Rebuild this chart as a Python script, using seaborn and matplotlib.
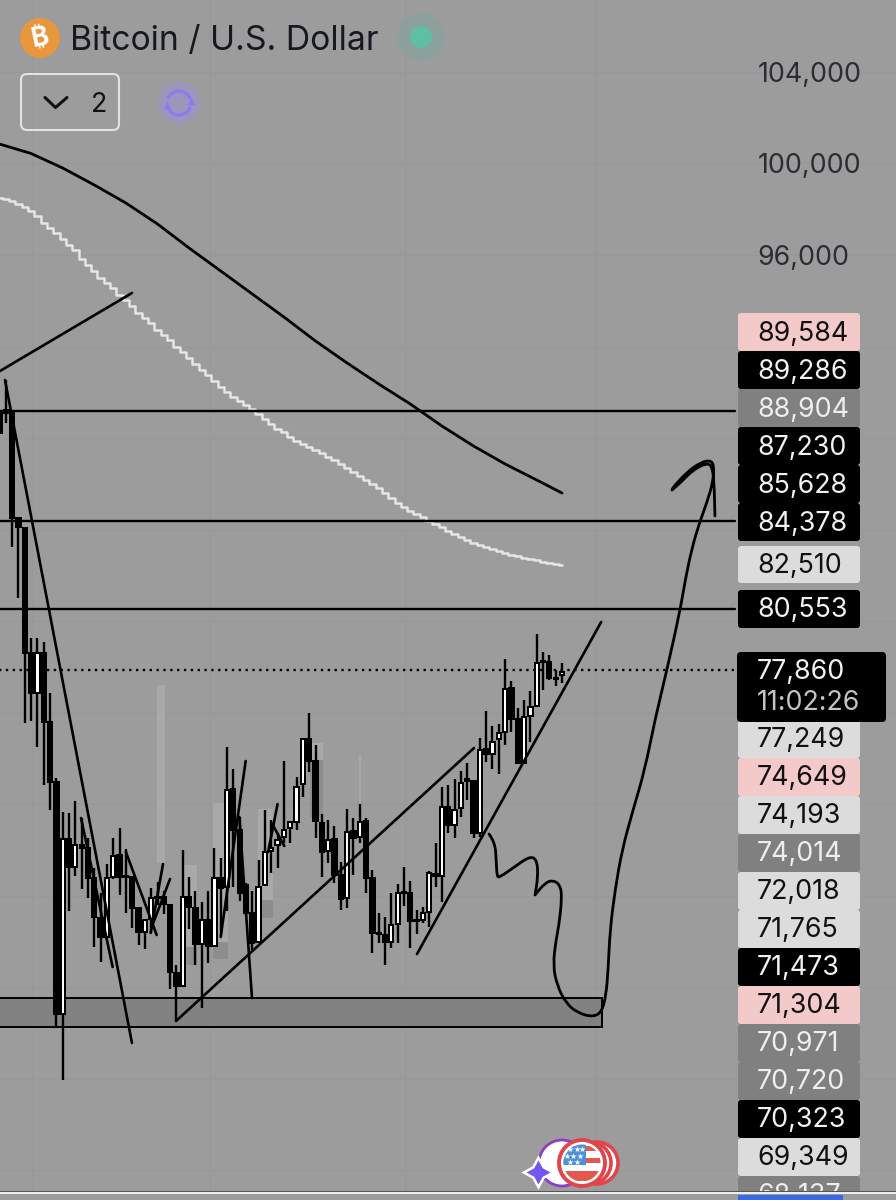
import numpy as np
import pandas as pd
import seaborn as sns
import matplotlib
matplotlib.use("Agg")
import matplotlib.pyplot as plt
from matplotlib.patches import Circle, Arc, FancyBboxPatch, PathPatch, Rectangle
from matplotlib.path import Path

# --- Candle data (one entry per candle) ---
opens = [89095, 89226, 89095, 84506, 84070, 78607, 76859, 78607, 75592, 72970,
         62831, 70479, 69255, 70217, 70085, 68774, 67026, 66196, 68818, 69780,
         68862, 68818, 67463, 66414, 66983, 67944, 67944, 67594, 64623, 64055,
         67944, 67463, 65890, 66939, 65803, 68774, 68381, 72664, 70872, 68469,
         67245, 65977, 68469, 69954, 70217, 70566, 70959, 71222, 72883, 74849,
         73887, 71178, 69954, 70479, 68906, 67900, 70828, 70566, 71265, 68774,
         66371, 66283, 65977, 66764, 68162, 68119, 66939, 66939, 67289, 68950,
         68862, 71877, 71090, 71834, 73101, 73014, 70741, 74412, 74193, 74849,
         75155, 77077, 75723, 73800, 75854, 76291, 78257, 78214, 77514, 77646]
highs = [89226, 90537, 89182, 84550, 84113, 79262, 79262, 79088, 76859, 73145,
         71659, 71615, 72139, 71396, 70522, 69212, 68119, 69386, 70522, 70959,
         70042, 68862, 67507, 66983, 68337, 68600, 68206, 67638, 64973, 69998,
         68818, 68206, 67726, 68206, 70085, 69649, 74499, 73538, 71440, 68556,
         68206, 69561, 71746, 71309, 70741, 73887, 71265, 73188, 74892, 75985,
         74587, 71571, 71309, 71047, 69474, 71790, 71396, 72008, 71396, 69124,
         67245, 67070, 68119, 68512, 69255, 68643, 67376, 67507, 69080, 70304,
         72752, 72839, 73101, 73451, 73800, 73057, 74892, 76072, 75417, 75504,
         78345, 77383, 76203, 76553, 76946, 79437, 78651, 78520, 77864, 78170]
lows = [88221, 88658, 83239, 81010, 75548, 75635, 74499, 72839, 71746, 62219,
        59947, 67332, 68862, 68294, 67900, 65759, 65104, 66152, 68731, 68032,
        67245, 66589, 65846, 65672, 66371, 67594, 67201, 63924, 62482, 64012,
        66546, 64973, 63093, 65060, 65759, 66196, 67332, 68381, 67769, 67157,
        65628, 65934, 68425, 68993, 69212, 70304, 70304, 70872, 72314, 73407,
        70522, 68818, 69430, 68556, 67376, 67463, 68906, 70304, 68119, 65497,
        65934, 64973, 65715, 65934, 67551, 65715, 66327, 66808, 66633, 68381,
        67726, 70741, 70522, 71440, 72183, 70522, 70566, 73844, 73538, 73319,
        74587, 75155, 73756, 73756, 74718, 76247, 76990, 77427, 77165, 77296]
closes = [88221, 89095, 84506, 84113, 78607, 76859, 78607, 75592, 72970, 62831,
          70479, 69255, 70217, 70085, 68774, 67070, 66196, 68774, 69736, 68818,
          68818, 67463, 66414, 66939, 67900, 67900, 67638, 64667, 64055, 67944,
          67507, 65890, 66939, 65803, 68774, 68337, 72620, 70872, 68119, 67245,
          65934, 68381, 69911, 70085, 70435, 70872, 71222, 72752, 74849, 73887,
          71265, 69911, 70435, 68906, 67857, 70785, 70522, 71222, 68774, 66371,
          66327, 65977, 66720, 68119, 68119, 66895, 66895, 67245, 68993, 68862,
          71877, 71090, 71746, 72926, 73014, 70741, 74368, 74193, 74718, 75111,
          77034, 75723, 73800, 75810, 76247, 78170, 78214, 77514, 77471, 77777]

# --- Moving averages ---
slow_ma_idx = [0, 5, 10, 15, 20, 25, 30, 35, 40, 45, 50, 55, 60, 65, 70, 75, 80, 85, 89]
slow_ma = [100850, 100435, 99801, 99059, 98272, 97354, 96305, 95300, 94295, 93290,
           92241, 91280, 90362, 89488, 88527, 87653, 86866, 86167, 85599]
fast_ma = [98490, 98446, 98359, 98228, 98097, 97922, 97704, 97398, 97179, 96961,
           96699, 96437, 96218, 95825, 95563, 95300, 94995, 94776, 94557, 94252,
           94033, 93771, 93465, 93246, 93028, 92722, 92503, 92285, 91979, 91760,
           91498, 91236, 90974, 90755, 90493, 90231, 90013, 89794, 89619, 89444,
           89270, 89051, 88833, 88614, 88396, 88265, 88046, 87871, 87740, 87609,
           87478, 87347, 87172, 87041, 86866, 86691, 86517, 86342, 86167, 85992,
           85817, 85599, 85380, 85162, 84987, 84812, 84681, 84550, 84375, 84244,
           84113, 83938, 83807, 83676, 83545, 83414, 83327, 83239, 83152, 83064,
           82977, 82890, 82846, 82759, 82715, 82671, 82584, 82540, 82496, 82453]

# --- Hand drawn things on the chart ---
level_prices = [89182, 84375, 80530]
level_end = 116.4
last_price = 77860
zone_low, zone_high, zone_end = 62263, 63530, 95.3
# (start idx, start price, end idx, end price)
trend_lines = [
    (0.08, 90930, 20.96, 94339),
    (0.87, 90537, 20.96, 61564),
    (27.93, 62525, 75.08, 74455),
    (66.06, 65453, 95.2, 79962),
    (38.95, 73887, 35.0, 66196),
    (37.95, 71440, 39.95, 63530),
    (12.9, 71396, 17.9, 64885),
    (20.0, 69911, 24.87, 66283),
    (25.87, 69386, 23.92, 66371),
    (26.98, 68731, 24.08, 66633),
    (44.0, 72008, 42.5, 69911),
    (43.07, 71178, 45.06, 70173),
]
# repeated points keep the pen's sharp turns sharp
sketch_idx = [77.45, 78.4, 78.6, 78.72, 79.2, 81.25, 83.94, 85.05, 85.2, 84.73, 84.73, 84.73, 86.3,
              87.58, 88.7, 89.0, 88.53, 88.05, 87.58, 88.2, 89.6, 91.5, 93.9,
              95.3, 95.97, 96.3, 96.6, 97.4, 98.5, 100.24, 102.1, 103.7, 105.6,
              107.7, 108.5, 109.6, 110.8, 111.9, 112.9, 113.06, 112.4, 110.8, 108.8,
              106.6, 106.4, 106.4, 106.4, 107.7, 109.7, 111.9, 112.7, 113.06, 113.2, 113.2]
sketch_price = [70697, 70348, 69500, 68818, 68818, 69212, 69736, 69561, 68818, 68032, 68032, 68032, 68556,
                68687, 68469, 67944, 66720, 66065, 64973, 64099, 63312, 62875, 62700,
                62919, 63662, 64754, 66502, 68250, 69998, 71746, 73494, 75679, 77864,
                80486, 81797, 83239, 84332, 85162, 86080, 86823, 87041, 86910, 86517,
                85861, 85730, 85730, 85730, 86036, 86604, 86910, 86779, 86167, 84594, 84594]

# faded rectangles behind the candles: (left, right, top, bottom)
ghost_light = [(24.9, 26.2, 77209, 69430), (29.0, 31.25, 69342, 65759),
               (33.8, 36.2, 72052, 65977), (40.9, 43.3, 71790, 67813),
               (49.1, 51.2, 74674, 73931), (56.9, 57.2, 74149, 72052)]
ghost_dark = [(29.0, 31.25, 65759, 64973), (33.8, 36.2, 65977, 65235),
              (40.9, 43.3, 67813, 67027), (49.1, 51.2, 73931, 71440)]

# --- Axis / side labels ---
grid_prices = [104000, 100000, 96000, 92000, 88000, 84000, 80000, 76000, 72000,
               68000, 64000, 60000, 56000]
axis_labels = ["104,000", "100,000", "96,000"] + [""] * 10
grid_idx = [5.14, 33.3, 64.2, 94.2]

upper_labels = ["89,584", "89,286", "88,904", "87,230", "85,628", "84,378"]
upper_kinds = ["pink", "black", "gray", "black", "black", "black"]
lower_labels = ["77,249", "74,649", "74,193", "74,014", "72,018", "71,765", "71,473",
                "71,304", "70,971", "70,720", "70,323", "69,349", "68,137"]
lower_kinds = ["light", "pink", "light", "gray", "light", "light", "black",
               "pink", "gray", "gray", "black", "light", "gray"]
title = "Bitcoin / U.S. Dollar"
countdown = "11:02:26"

BG = "#9c9c9c"
INK = "#16191f"
FONT = "Inter"
TAG_SIZE = 19.3
KINDS = {"pink": ("#f3c9c9", "#111111"), "black": ("#000000", "#f2f2f2"),
         "gray": ("#808080", "#eeeeee"), "light": ("#dcdcdc", "#111111")}

sns.set_theme(style="whitegrid", rc={"axes.facecolor": BG, "figure.facecolor": BG,
                                     "grid.color": "#989898", "grid.linewidth": 0.9})
plt.rcParams["font.family"] = [FONT, "DejaVu Sans"]

fig = plt.figure(figsize=(8.96, 12), dpi=100)
ax = fig.add_axes([0, 0, 1, 1])

df = pd.DataFrame({"open": opens, "high": highs, "low": lows, "close": closes})
df["idx"] = np.arange(len(df))
df["up"] = df["close"] >= df["open"]

# faded rectangles
for shapes, col in [(ghost_light, "#a9a9a9"), (ghost_dark, "#8d8d8d")]:
    for left, right, top, bottom in shapes:
        ax.bar(left, top - bottom, width=right - left, bottom=bottom, align="edge",
               color=col, linewidth=0, zorder=1)

# the grey demand zone at the bottom
ax.add_patch(Rectangle((-2, zone_low), zone_end + 2, zone_high - zone_low, facecolor="#828282",
                       edgecolor="black", linewidth=1.4, zorder=1.5))

# wicks and bodies
ax.vlines(df["idx"], df["low"], df["high"], color="black", linewidth=1.7, zorder=3)
body_low = df[["open", "close"]].min(axis=1)
body_size = (df["open"] - df["close"]).abs()
ax.bar(df["idx"], body_size, bottom=body_low, width=0.68,
       color=np.where(df["up"], "white", "black"), edgecolor="black", linewidth=1.45, zorder=4)

# moving averages
sns.lineplot(x=slow_ma_idx, y=slow_ma, color="black", linewidth=2.0, ax=ax, zorder=5)
sns.lineplot(x=df["idx"], y=fast_ma, color="#e6e6e6", linewidth=1.8, ax=ax, zorder=5,
             drawstyle="steps-mid", estimator=None)

# levels and price line
for level in level_prices:
    sns.lineplot(x=[-2, level_end], y=[level, level], color="black", linewidth=1.7, ax=ax, zorder=6)
ax.plot([-2, level_end], [last_price, last_price], color="black", linewidth=1.7,
        linestyle=(0, (1, 1.9)), zorder=6)

# trend lines and the free hand sketch
for x0, y0, x1, y1 in trend_lines:
    ax.plot([x0, x1], [y0, y1], color="black", linewidth=1.9, solid_capstyle="round", zorder=6)
# sketch points are the control points of a smooth pen stroke
pts = np.column_stack([sketch_idx, sketch_price])
verts = [pts[0]]
codes = [Path.MOVETO]
for k in range(1, len(pts) - 1):
    verts += [pts[k], (pts[k] + pts[k + 1]) / 2]
    codes += [Path.CURVE3, Path.CURVE3]
verts.append(pts[-1])
codes.append(Path.LINETO)
ax.add_patch(PathPatch(Path(verts, codes), facecolor="none", edgecolor="black", linewidth=2.0,
                       capstyle="round", joinstyle="round", zorder=6))

ax.set_xlim(0.079, 141.85)
ax.set_ylim(54703, 107143)
ax.set_xticks(grid_idx)
ax.set_xticklabels([])
ax.yaxis.tick_right()
ax.set_yticks(grid_prices)
ax.set_yticklabels(axis_labels)
ax.tick_params(axis="y", direction="in", length=0, pad=-99.5, labelsize=TAG_SIZE, labelcolor="#2a2d33")
ax.tick_params(axis="x", length=0)
ax.set_xlabel("")
ax.set_ylabel("")
for spine in ax.spines.values():
    spine.set_visible(False)

# --- Everything that is app chrome goes on a screen-sized overlay ---
ui = fig.add_axes([0, 0, 1, 1], facecolor="none")
ui.set_xlim(0, 896)
ui.set_ylim(1200, 0)
ui.axis("off")


def price_tag(x, y, w, h, text, kind):
    face, ink = KINDS[kind]
    ui.add_patch(FancyBboxPatch((x + 2, y + 2), w - 4, h - 4, boxstyle="round,pad=2,rounding_size=3",
                                facecolor=face, edgecolor="none", zorder=3))
    ui.text(757, y + h / 2 - 1.5, text, color=ink, fontsize=TAG_SIZE, va="center_baseline", ha="left", zorder=4)


# stacks of price tags
for k, (text, kind) in enumerate(zip(upper_labels, upper_kinds)):
    price_tag(738, 313 + 38 * k, 122, 38, text, kind)
price_tag(738, 546, 122, 37, "82,510", "light")
price_tag(738, 590, 122, 38, "80,553", "black")

for k, (text, kind) in enumerate(zip(lower_labels, lower_kinds)):
    price_tag(738, 720 + 38 * k, 122, 38, text, kind)

# current price box
ui.add_patch(FancyBboxPatch((739, 654), 145, 66, boxstyle="round,pad=2,rounding_size=4",
                            facecolor="black", edgecolor="none", zorder=5))
ui.text(757, 669, f"{last_price:,}", color="#f2f2f2", fontsize=TAG_SIZE, va="center_baseline", zorder=6)
ui.text(757, 700, countdown, color="#c4c4c4", fontsize=TAG_SIZE, va="center_baseline", zorder=6)

# bottom bar of the screenshot
ui.add_patch(Rectangle((0, 1191), 896, 1.2, facecolor="#555555", edgecolor="none", zorder=7))
ui.add_patch(Rectangle((0, 1192.2), 896, 1.6, facecolor="#eeeeee", edgecolor="none", zorder=7))
ui.add_patch(Rectangle((0, 1193.8), 896, 6.2, facecolor=BG, edgecolor="none", zorder=7))
ui.add_patch(Rectangle((738, 1195), 105, 5, facecolor="#3a68e0", edgecolor="none", zorder=8))

# header: coin, title, status dot
ui.add_patch(Circle((40, 38), 20, facecolor="#e8973d", edgecolor="none"))
ui.text(40, 38, "\u20bf", color="white", fontsize=19, fontweight="bold",
        rotation=12, ha="center", va="center",
        family=["Inter", "Noto Sans", "Roboto", "Open Sans", "Lato", "DejaVu Sans"])
ui.text(70, 38, title, color=INK, fontsize=24.3, family="Inter", va="center_baseline")
ui.add_patch(Circle((421, 37), 24, facecolor="#72a99c", alpha=0.35, edgecolor="none"))
ui.add_patch(Circle((421, 37), 11, facecolor="#5fbfa5", edgecolor="none"))

# collapse button
ui.add_patch(FancyBboxPatch((24, 77), 92, 50, boxstyle="round,pad=3,rounding_size=6",
                            facecolor="none", edgecolor="#e2e2e2", linewidth=1.5))
ui.plot([45, 55.5, 67], [97.5, 107.5, 97.5], color="#111111", linewidth=2.2)
ui.text(99, 102, "2", color="#111111", fontsize=TAG_SIZE, ha="center", va="center_baseline")

# refresh icon
ui.add_patch(Circle((179, 103), 21, facecolor="#9c8fe0", alpha=0.45, edgecolor="none"))
ui.add_patch(Arc((179, 103), 24, 24, theta1=200, theta2=340, color="#8d78f5", linewidth=2.2))
ui.add_patch(Arc((179, 103), 24, 24, theta1=20, theta2=160, color="#8d78f5", linewidth=2.2))
ui.scatter([167, 191], [105, 101], marker="^", s=32, color="#8d78f5", linewidths=0)

# promo coins at the bottom
ui.add_patch(Circle((562, 1163), 23, facecolor="white", edgecolor="#8a3fc4", linewidth=2))
for cx in [597, 590]:
    ui.add_patch(Circle((cx, 1163), 21, facecolor="white", edgecolor="#e0454a", linewidth=2.6))
coin = Circle((582, 1163), 23, facecolor="white", edgecolor="#e0454a", linewidth=2.8)
ui.add_patch(coin)
flag_clip = Circle((582, 1163), 18.5, transform=ui.transData)
stripes = [(1146, 1151), (1158, 1163), (1171, 1181)]
for top, bottom in stripes:
    r = ui.add_patch(Rectangle((560, top), 44, bottom - top, facecolor="#e2584f", edgecolor="none"))
    r.set_clip_path(flag_clip)
r = ui.add_patch(Rectangle((560, 1143), 26, 22, facecolor="#4b8fdf", edgecolor="none"))
r.set_clip_path(flag_clip)
ui.scatter([570, 577, 582, 567, 573, 580, 570, 577], [1149, 1149, 1149, 1156, 1156, 1156, 1162, 1162],
           marker="*", s=22, color="white", linewidths=0, zorder=5)
ui.scatter([538], [1172], marker=(4, 1, 0), s=620, color="white", linewidths=0, zorder=6)
ui.scatter([538], [1172], marker=(4, 1, 0), s=300, color="#7457ee", linewidths=0, zorder=7)

fig.savefig("out.png", dpi=100, facecolor=BG)
plt.close(fig)
